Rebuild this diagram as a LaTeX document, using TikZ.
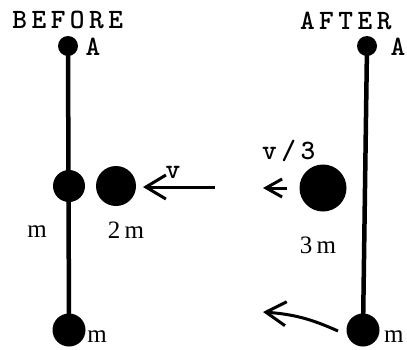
\documentclass[tikz,border=0pt]{standalone}
\usepackage{fontspec}
\setmainfont{Liberation Serif}
\usetikzlibrary{arrows.meta}
\newcommand\spread[1]{\spreadi#1\relax}
\def\spreadi#1{\ifx#1\relax\else#1\kern4.5pt\expandafter\spreadi\fi}
\begin{document}
\begin{tikzpicture}[x=1pt,y=-1pt,
  dot/.style={circle,fill=black,inner sep=0pt,minimum size=#1},
  rod/.style={line width=4.5pt},
  lbl/.style={inner sep=0pt,font=\ttfamily\bfseries\fontsize{28}{28}\selectfont},
  ser/.style={inner sep=0pt,font=\fontsize{25}{25}\selectfont},
  arr/.style={line width=3pt,-{Straight Barb[length=20pt,width=24pt]}},
  arrs/.style={line width=3pt,-{Straight Barb[length=16pt,width=18pt]}}]
\useasboundingbox (0,0) rectangle (407,349);
% before
\node[dot=20pt] (A1) at (68,46) {};
\node[dot=32pt] (M1) at (69,186) {};
\node[dot=33pt] (B1) at (69,330) {};
\draw[rod] (A1.center) -- (B1.center);
\node[dot=40pt] (ball2) at (116,186) {};
% after
\node[dot=20pt] (A2) at (367,46) {};
\node[dot=47pt] (ball3) at (323,188) {};
\node[dot=33pt] (B2) at (363,330) {};
\draw[rod] (A2.center) -- (B2.center);
% arrows
\coordinate (t1) at (215,187);
\coordinate (h1) at (143,187);
\draw[arr] (t1) -- (h1);
\coordinate (t2) at (287,188);
\coordinate (h2) at (263,188);
\draw[arrs] (t2) -- (h2);
\coordinate (t3) at (338,331);
\coordinate (h3) at (263,312);
\draw[arr] (t3) to[bend right=10] (h3);
% labels
\node[lbl] (before) at (70,20) {\spread{BEFORE}};
\node[lbl] (after) at (348,21) {\spread{AFTER}};
\node[lbl] (a1) at (93,47) {A};
\node[lbl] (a2) at (398,47) {A};
\node[lbl] (v) at (173,172) {v};
\node[lbl] (v3) at (291,151) {\spread{v/3}};
\node[ser] (m1) at (37,232) {m};
\node[ser] (m2) at (126,230) {2\,m};
\node[ser] (m3) at (318,245) {3\,m};
\node[ser] (mb1) at (97,337) {m};
\node[ser,anchor=west] (mb2) at (384,337) {m};
\end{tikzpicture}
\end{document}
